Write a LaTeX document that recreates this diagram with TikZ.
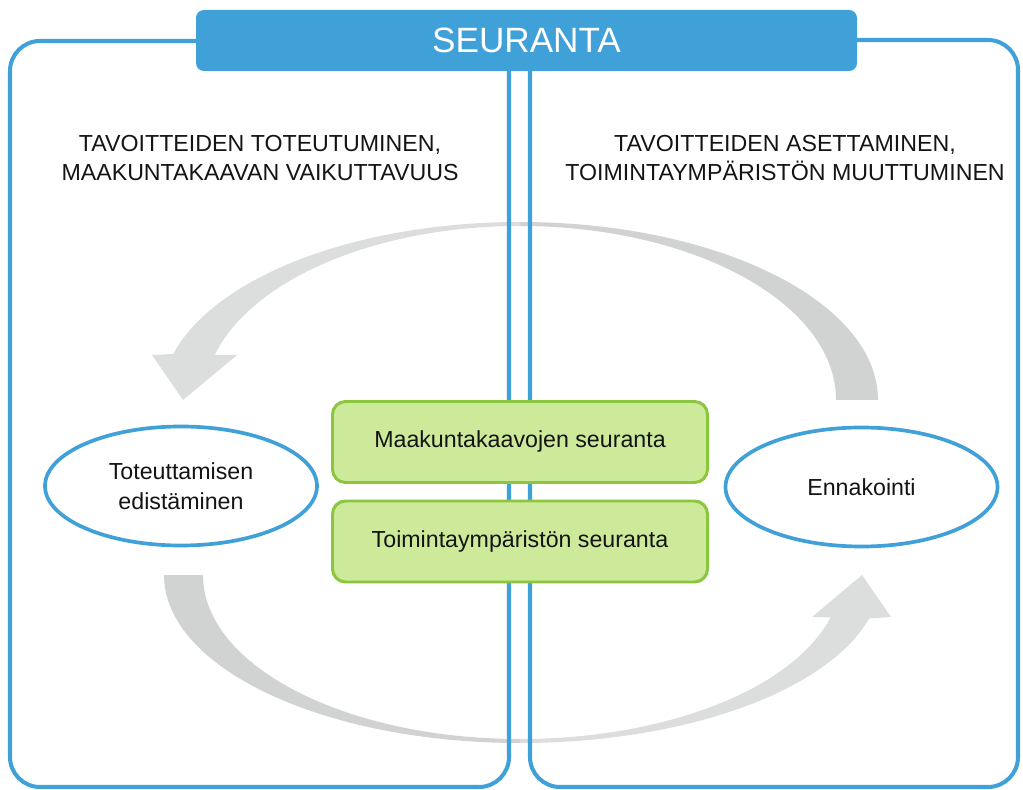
\documentclass[tikz,border=0pt]{standalone}
\usepackage{fontspec}
\setmainfont{Liberation Sans}
\usetikzlibrary{calc,shapes.geometric}
\definecolor{seuBlue}{RGB}{64,160,216}
\definecolor{leafG}{RGB}{205,234,155}
\definecolor{leafEdge}{RGB}{140,198,63}
\definecolor{arrowDark}{RGB}{209,211,211}
\definecolor{arrowLight}{RGB}{219,222,220}
\definecolor{ink}{RGB}{20,20,20}

\begin{document}
\begin{tikzpicture}[
  panel/.style={draw=seuBlue,line width=2.3pt,rounded corners=0.6cm},
  banner/.style={fill=seuBlue,rounded corners=0.16cm,minimum width=13.22cm,minimum height=1.22cm,text=white,font=\fontsize{20}{24}\selectfont},
  headtxt/.style={font=\fontsize{13.2}{17}\selectfont,align=center,text=ink},
  oval/.style={ellipse,draw=seuBlue,line width=2.1pt,fill=white,minimum width=5.44cm,minimum height=2.38cm,inner sep=0pt,font=\fontsize{13.2}{17}\selectfont,align=center,text=ink},
  task/.style={draw=leafEdge,line width=1.7pt,fill=leafG,rounded corners=0.26cm,minimum width=7.5cm,minimum height=1.62cm,font=\fontsize{13.2}{17}\selectfont,text=ink}
]
  \useasboundingbox (0,0) rectangle (20.46,15.78);

  % Grey cycle arrows
  \coordinate (ctop) at (10.40,7.78);
  \coordinate (cbot) at (10.40,4.28);
  \fill[arrowDark] ($(ctop)+(7.16,0)$) arc[start angle=0,end angle=90,x radius=7.16,y radius=3.56]
    -- ($(ctop)+(0,3.48)$) arc[start angle=90,end angle=0,x radius=6.32,y radius=3.48] -- cycle;
  \fill[arrowLight] ($(ctop)+(0,3.56)$) arc[start angle=90,end angle=165,x radius=7.18,y radius=3.56]
    -- (3.04,8.68) -- (3.66,7.78) -- (4.74,8.68)
    -- ($(ctop)+(165:6.32 and 3.48)$) arc[start angle=165,end angle=90,x radius=6.32,y radius=3.48] -- cycle;
  \fill[arrowDark] ($(cbot)+(-7.12,0)$) arc[start angle=180,end angle=270,x radius=7.12,y radius=3.36]
    -- ($(cbot)+(0,-3.28)$) arc[start angle=270,end angle=180,x radius=6.34,y radius=3.28] -- cycle;
  \fill[arrowLight] ($(cbot)+(0,-3.36)$) arc[start angle=-90,end angle=-15,x radius=7.23,y radius=3.36]
    -- (17.82,3.44) -- (17.24,4.28) -- (16.24,3.44)
    -- ($(cbot)+(-15:6.43 and 3.28)$) arc[start angle=-15,end angle=-90,x radius=6.43,y radius=3.28] -- cycle;

  % Two panels and the banner
  \draw[panel] (0.20,0.04) rectangle (10.18,14.96);
  \draw[panel] (10.60,0.04) rectangle (20.36,14.98);
  \node[banner] (seuranta) at (10.53,14.97) {SEURANTA};

  \node[headtxt] (goalsL) at (5.20,12.62) {TAVOITTEIDEN TOTEUTUMINEN,\\MAAKUNTAKAAVAN VAIKUTTAVUUS};
  \node[headtxt] (goalsR) at (15.70,12.62) {TAVOITTEIDEN ASETTAMINEN,\\TOIMINTAYMPÄRISTÖN MUUTTUMINEN};

  % Ovals
  \node[oval] (edist) at (3.62,6.06) {Toteuttamisen\\edistäminen};
  \node[oval] (ennak) at (17.23,6.04) {Ennakointi};

  % Follow-up boxes
  \node[task] (mkseur) at (10.40,6.94) {Maakuntakaavojen seuranta};
  \node[task] (tyseur) at (10.40,4.95) {Toimintaympäristön seuranta};
\end{tikzpicture}
\end{document}
